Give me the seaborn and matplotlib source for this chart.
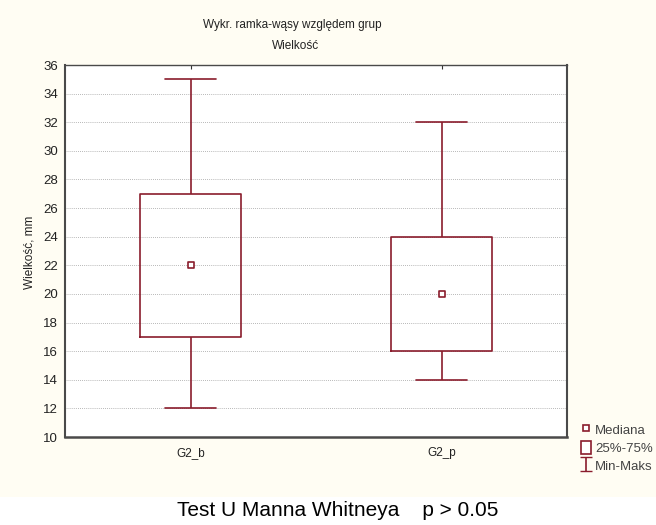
import numpy as np
import pandas as pd
import matplotlib
matplotlib.use("Agg")
import matplotlib.pyplot as plt
from matplotlib.patches import Rectangle
from matplotlib.lines import Line2D
import seaborn as sns

# Five-number summaries per group
groups = ["G2_b", "G2_p"]
minimum = [12, 14]
q1 = [17, 16]
median = [22, 20]
q3 = [27, 24]
maximum = [35, 32]

y_ticks = list(range(10, 37, 2))

title_lines = ["Wykr. ramka-wąsy względem grup", "Wielkość"]
y_label = "Wielkość, mm"
footer = "Test U Manna Whitneya    p > 0.05"
legend_labels = ["Mediana", "25%-75%", "Min-Maks"]

# Rows whose quartiles reproduce each summary exactly
rows = []
for g, a, b, c, d, e in zip(groups, minimum, q1, median, q3, maximum):
    for v in (a, b, c, d, e):
        rows.append({"grupa": g, "wartosc": v})
df = pd.DataFrame(rows)
med_df = pd.DataFrame({"grupa": groups, "wartosc": median})

sns.set_theme(style="white")
plt.rcParams["font.family"] = ["Liberation Sans", "DejaVu Sans"]

RED = "#8a1c2c"
CREAM = "#fffdf3"

fig = plt.figure(figsize=(6.56, 5.25), dpi=100, facecolor=CREAM)
fig.patches.append(Rectangle((0, 0), 1, 28 / 525, transform=fig.transFigure,
                             facecolor="white", edgecolor="none", zorder=0))
ax = fig.add_axes([65 / 656, 1 - 437 / 525, (567 - 65) / 656, (437 - 65) / 525])
ax.set_facecolor("white")

sns.boxplot(data=df, x="grupa", y="wartosc", order=groups, whis=(0, 100),
            width=0.4, fill=False, color=RED, linewidth=1.2,
            medianprops={"visible": False}, showfliers=False, ax=ax)
sns.scatterplot(data=med_df, x="grupa", y="wartosc", marker="s", s=18,
                facecolor="white", edgecolor=RED, linewidth=1.2, zorder=5, ax=ax)

ax.set_xlim(-0.5, 1.5)
ax.set_ylim(10, 36)
ax.set_yticks(y_ticks)
ax.set_xlabel("")
ax.set_ylabel("")
ax.grid(axis="y", color="#a0a0a0", linestyle=(0, (1, 1.5)), linewidth=0.6)
ax.set_axisbelow(True)
ax.tick_params(axis="y", direction="out", length=3, width=0.8, labelsize=9.5,
               pad=2, colors="#333333", labelcolor="#222222")
ax.tick_params(axis="x", direction="in", length=3, width=0.8, labelsize=8.5,
               pad=7, top=True, colors="#333333", labelcolor="#222222")
for s in ax.spines.values():
    s.set_color("#4a4a4a")
    s.set_linewidth(1.0)
ax.spines["left"].set_linewidth(1.5)
ax.spines["bottom"].set_linewidth(1.8)
ax.spines["right"].set_linewidth(1.5)

fig.text(292 / 656, 1 - 25 / 525, title_lines[0], ha="center", va="center",
         fontsize=8.5, color="#222222")
fig.text(296 / 656, 1 - 46 / 525, title_lines[1], ha="center", va="center",
         fontsize=8.5, color="#222222")
fig.text(30 / 656, 1 - 252 / 525, y_label, rotation=90, ha="center",
         va="center", fontsize=8.5, color="#222222")
fig.text(338 / 656, 1 - 511 / 525, footer, ha="center", va="center",
         fontsize=15, color="black")

# Legend
eb = ax.errorbar([np.nan], [np.nan], yerr=[1], fmt="none", ecolor=RED,
                 elinewidth=1.2, capsize=4.5)
handles = [
    Line2D([], [], marker="s", ls="", markersize=4.5, markerfacecolor="white",
           markeredgecolor=RED, markeredgewidth=1.2),
    Rectangle((0, 0), 1, 1, facecolor="white", edgecolor=RED, linewidth=1.2),
    eb,
]
leg = fig.legend(handles, legend_labels, loc="upper left",
                 bbox_to_anchor=(574 / 656, 1 - 416 / 525), frameon=False,
                 fontsize=9.5, handlelength=0.8, handleheight=1.15,
                 handletextpad=0.3, labelspacing=0.3, borderpad=0)
for t in leg.get_texts():
    t.set_color("#444444")

fig.savefig("out.png", dpi=100, facecolor=CREAM)
